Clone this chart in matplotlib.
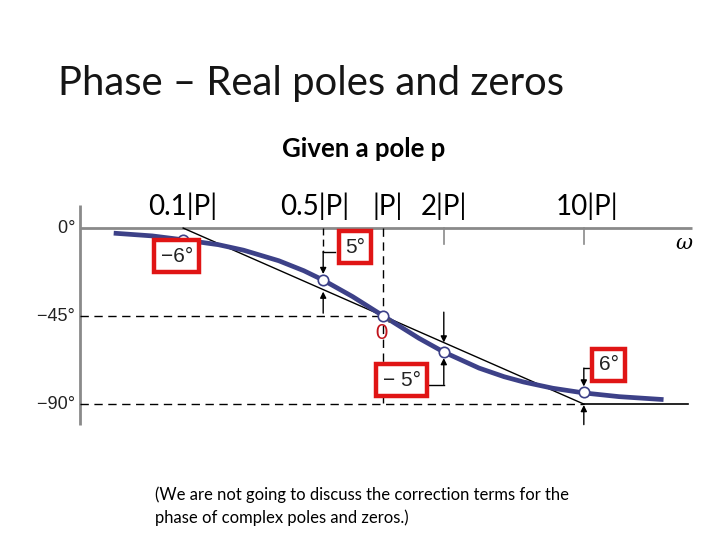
import matplotlib
matplotlib.use("Agg")
import matplotlib.pyplot as plt

# ---------------- data ----------------
omega_curve = [0.045, 0.07, 0.1, 0.15, 0.2, 0.3, 0.4, 0.5, 0.7, 1.0, 1.5, 2.0, 3.0, 4.0, 5.0, 7.0, 10.0, 15.0, 25.0]
phase_curve = [-2.6, -4.0, -6.0, -8.5, -11.3, -16.7, -21.8, -26.6, -35.0, -45.0, -56.3, -63.4, -71.6, -76.0, -78.7, -81.9, -84.3, -86.2, -87.7]

asym_omega = [0.1, 10.0]
asym_phase = [0.0, -90.0]

marker_omega = [0.1, 0.5, 1.0, 2.0, 10.0]
marker_phase = [-6.0, -26.6, -45.0, -63.4, -84.0]

freq_ticks = [0.1, 0.5, 1.0, 2.0, 10.0]
freq_labels = ["0.1|P|", "0.5|P|", "|P|", "2|P|", "10|P|"]

deg_ticks = [0, -45, -90]
deg_labels = ["0°", "\u221245°", "\u221290°"]

# ---------------- figure ----------------
fig = plt.figure(figsize=(7.2, 5.4), dpi=100)
ax = fig.add_axes([80/720, 1-425/540, 612/720, 220/540])
ax.set_xscale("log")
xmin, xmax = 10**(-1.515), 10**(1.54)
ax.set_xlim(xmin, xmax)
ax.set_ylim(-100.7, 11.8)
ax.axis("off")

gray = "#8a8a8a"
curve_col = "#3d4188"

# axes lines
ax.plot([xmin, xmin], [11.8, -100.7], color=gray, lw=2, clip_on=False, solid_capstyle="butt")
ax.plot([xmin, xmax], [0, 0], color=gray, lw=2, clip_on=False, solid_capstyle="butt")
ax.plot([xmin, 1.0], [-45, -45], color="black", lw=1, ls=(0, (6, 4)))
ax.plot([xmin, 10.0], [-90, -90], color="black", lw=1, ls=(0, (6, 4)))
ax.plot([10.0, 10**1.52], [-90, -90], color="black", lw=1.2)
ax.plot([1.0, 1.0], [0, -90], color="black", lw=1, ls=(0, (6, 4)))

# asymptote
ax.plot(asym_omega, asym_phase, color="black", lw=1, zorder=3)

# exact curve
ax.plot(omega_curve, phase_curve, color=curve_col, lw=3.4, zorder=4, solid_capstyle="butt")

# markers
ax.plot(marker_omega, marker_phase, ls="none", marker="o", ms=7.5,
        mfc="white", mec=curve_col, mew=1.2, zorder=5)

# tick marks at 2|P| and 10|P|
for w in (2.0, 10.0):
    ax.plot([w, w], [0, -8], color=gray, lw=1.2)

arrow_kw = dict(arrowstyle="-|>", color="black", lw=1, mutation_scale=9, shrinkA=0, shrinkB=0)

# 0.5|P| correction arrows
ax.plot([0.5, 0.5], [0, -12], color="black", lw=1, ls=(0, (5, 3)))
ax.annotate("", xy=(0.5, -23.5), xytext=(0.5, -12), arrowprops=arrow_kw)
ax.annotate("", xy=(0.5, -32.5), xytext=(0.5, -43.5), arrowprops=arrow_kw)
ax.plot([0.5, 0.57], [-12, -12], color="black", lw=1)

# 2|P| correction arrows
ax.annotate("", xy=(2.0, -58.5), xytext=(2.0, -43), arrowprops=arrow_kw)
ax.annotate("", xy=(2.0, -66.5), xytext=(2.0, -80), arrowprops=arrow_kw)
ax.plot([2.0, 1.68], [-80, -80], color="black", lw=1)

# 10|P| correction arrows
ax.annotate("", xy=(10.0, -81), xytext=(10.0, -71.6), arrowprops=arrow_kw)
ax.annotate("", xy=(10.0, -90.5), xytext=(10.0, -100.5), arrowprops=arrow_kw, annotation_clip=False)
ax.plot([10.0, 11.6], [-71.6, -71.6], color="black", lw=1)

# red boxed correction labels
box = dict(boxstyle="square,pad=0.3", facecolor="white", edgecolor="#e01515", linewidth=3.2)
lbl_font = dict(family="Liberation Sans", fontsize=15, color="#222222", ha="center", va="center", zorder=6)
ax.text(0.093, -14.3, "\u22126°", bbox=box, **lbl_font)
ax.text(0.72, -9.7, "5°", bbox=box, **lbl_font)
ax.text(1.23, -77.7, "\u2212 5°", bbox=box, **lbl_font)
ax.text(13.3, -70.0, "6°", bbox=box, **lbl_font)

# red 0 at |P|
ax.text(0.975, -53.5, "0", color="#c0141c", fontsize=15, family="Lato", ha="center", va="center", zorder=6)
ax.text(1.06, -49.5, "°", color="#555555", fontsize=9, family="Liberation Sans", ha="center", va="center", zorder=6)

# degree labels
for d, t in zip(deg_ticks, deg_labels):
    ax.text(xmin, d, t + " ", ha="right", va="center", fontsize=13,
            family="Liberation Sans", color="#222222")

# frequency labels above
offsets = [0, -6, 3, 0, 2]
for w, t, o in zip(freq_ticks, freq_labels, offsets):
    ax.annotate(t, xy=(w, 0), xytext=(o, 6), textcoords="offset points",
                ha="center", va="bottom", fontsize=20, family="Lato", color="black")

# omega label
ax.text(10**1.5, -8, "\u03c9", fontsize=15, family="DejaVu Serif", style="italic",
        ha="center", va="center")

# slide texts
fig.text(58/720, 1-95/540, "Phase \u2013 Real poles and zeros", fontsize=28.8,
         family="Lato", fontweight="normal", color="#151515", ha="left", va="baseline")
fig.text(364/720, 1-157/540, "Given a pole p", fontsize=18.5, family="Lato",
         fontweight="bold", ha="center", va="baseline")
fig.text(155/720, 1-500/540, "(We are not going to discuss the correction terms for the",
         fontsize=12, family="Lato", ha="left", va="baseline")
fig.text(155/720, 1-523/540, "phase of complex poles and zeros.)",
         fontsize=12, family="Lato", ha="left", va="baseline")

fig.savefig("out.png", dpi=100)
